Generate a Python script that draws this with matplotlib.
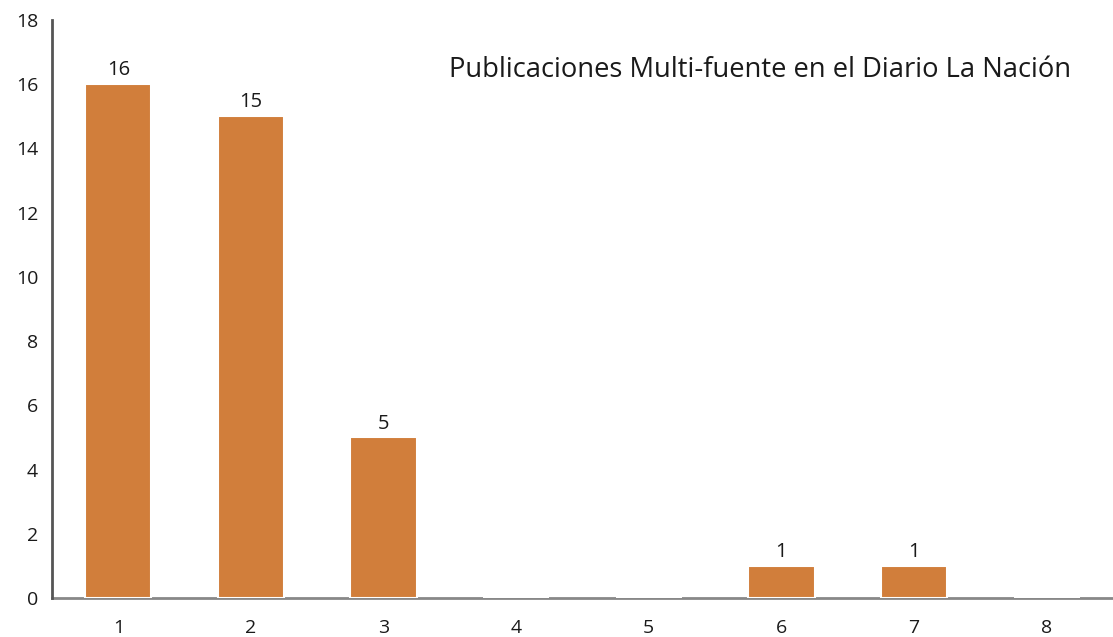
import matplotlib
matplotlib.use("Agg")
import matplotlib.pyplot as plt

categories = [1, 2, 3, 4, 5, 6, 7, 8]
values = [16, 15, 5, 0, 0, 1, 1, 0]
yticks = [0, 2, 4, 6, 8, 10, 12, 14, 16, 18]
title = "Publicaciones Multi-fuente en el Diario La Nación"

plt.rcParams['font.family'] = ['Open Sans', 'DejaVu Sans']

fig = plt.figure(figsize=(11.13, 6.37), dpi=100)
ax = fig.add_axes([0.0467, 0.0612, 0.9533, 0.9074])

bars = ax.bar(categories, values, width=0.5, color='#D17E3B', edgecolor='white',
              linewidth=1.5, zorder=3)
for x, v in zip(categories, values):
    if v > 0:
        ax.text(x, v + 0.12, str(v), ha='center', va='bottom', fontsize=14.5, color='#1a1a1a')

ax.set_xlim(0.5, 8.5)
ax.set_ylim(0, 18)
ax.set_xticks(categories)
ax.set_xticklabels([str(c) for c in categories])
ax.set_yticks(yticks)
ax.tick_params(axis='both', length=0, labelsize=14, colors='#1a1a1a')
ax.tick_params(axis='x', pad=15)
ax.tick_params(axis='y', pad=10)

for s in ['top', 'right']:
    ax.spines[s].set_visible(False)
ax.spines['left'].set_color('#555555')
ax.spines['left'].set_linewidth(2)
ax.spines['bottom'].set_color('#888888')
ax.spines['bottom'].set_linewidth(2)
ax.spines['bottom'].set_zorder(2)

ax.text(0.667, 0.913, title, transform=ax.transAxes, ha='center', va='center',
        fontsize=19.7, color='#1a1a1a')

fig.savefig("out.png", dpi=100)
